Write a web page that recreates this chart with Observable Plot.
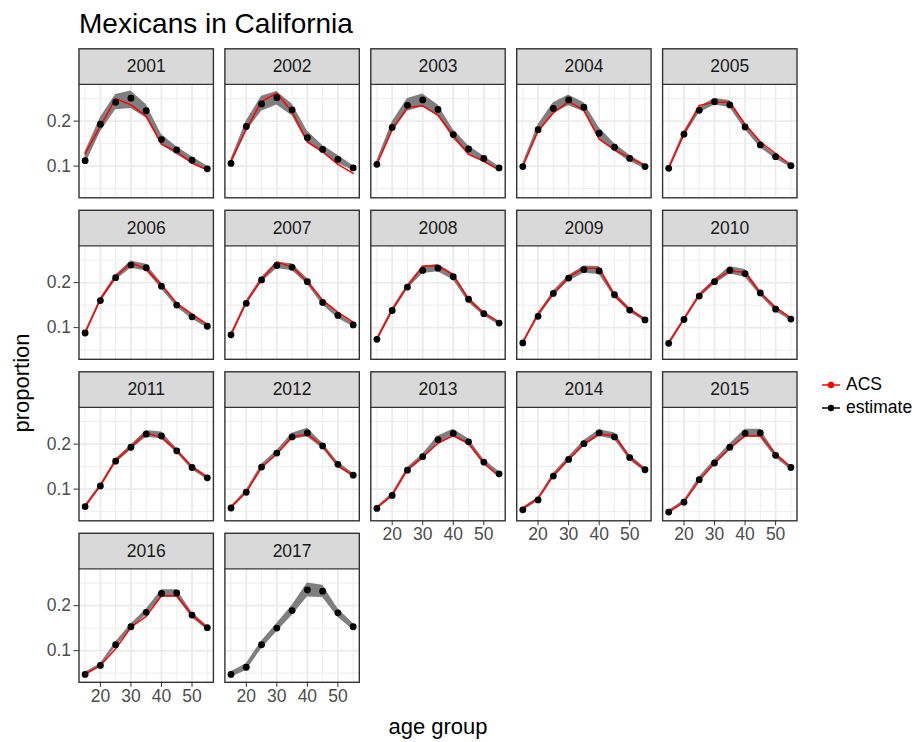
<!DOCTYPE html>
<html><head><meta charset="utf-8">
<script src="https://cdn.jsdelivr.net/npm/d3@7"></script>
<script src="https://cdn.jsdelivr.net/npm/@observablehq/plot@0.6"></script>
<style>
body{margin:0;background:#fff;font-family:"Liberation Sans",Arial,Helvetica,sans-serif;}
#wrap{position:relative;width:916px;height:742px;overflow:hidden;}
#title{position:absolute;left:79px;top:6px;font-size:28px;line-height:36px;color:#000;white-space:nowrap;}
#chart{position:absolute;left:0;top:44px;}
#ylab{position:absolute;left:22px;top:383px;transform:translate(-50%,-50%) rotate(-90deg);font-size:22px;white-space:nowrap;color:#000;}
#xlab{position:absolute;left:438px;top:727px;transform:translate(-50%,-50%);font-size:22px;white-space:nowrap;color:#000;}
#legend{position:absolute;left:821px;top:373px;font-size:17.5px;color:#000;}
.item{display:flex;align-items:center;height:23px;}
.item svg{margin-right:5px;}
</style>
</head><body>
<div id="wrap">
  <div id="title">Mexicans in California</div>
  <div id="chart"></div>
  <div id="ylab">proportion</div>
  <div id="xlab">age group</div>
  <div id="legend"></div>
</div>
<script>
const years = [2001,2002,2003,2004,2005,2006,2007,2008,2009,2010,2011,2012,2013,2014,2015,2016,2017];
const ages = [15,20,25,30,35,40,45,50,55];
const xTicks = [20,30,40,50];
const yTicks = [0.1,0.2];
const seriesNames = ["ACS","estimate"];

const estimate = [
 [0.112,0.193,0.242,0.251,0.223,0.159,0.136,0.113,0.094],
 [0.106,0.188,0.238,0.252,0.225,0.163,0.137,0.115,0.096],
 [0.104,0.186,0.235,0.247,0.226,0.170,0.138,0.117,0.096],
 [0.099,0.181,0.228,0.247,0.231,0.173,0.142,0.117,0.099],
 [0.095,0.171,0.224,0.243,0.236,0.187,0.147,0.121,0.101],
 [0.088,0.160,0.211,0.239,0.233,0.192,0.150,0.124,0.103],
 [0.084,0.154,0.206,0.238,0.234,0.202,0.156,0.127,0.106],
 [0.074,0.138,0.190,0.227,0.232,0.213,0.163,0.131,0.110],
 [0.066,0.125,0.176,0.210,0.229,0.226,0.173,0.139,0.117],
 [0.065,0.118,0.170,0.202,0.227,0.220,0.177,0.141,0.119],
 [0.061,0.107,0.162,0.193,0.222,0.218,0.185,0.148,0.125],
 [0.058,0.093,0.149,0.180,0.216,0.225,0.196,0.155,0.131],
 [0.057,0.086,0.142,0.172,0.210,0.224,0.205,0.160,0.134],
 [0.054,0.076,0.129,0.166,0.201,0.225,0.216,0.170,0.143],
 [0.049,0.071,0.121,0.158,0.193,0.224,0.225,0.175,0.148],
 [0.047,0.067,0.113,0.153,0.185,0.227,0.228,0.179,0.151],
 [0.047,0.063,0.113,0.150,0.189,0.235,0.232,0.184,0.153]
];
const acs = [
 [0.128,0.189,0.250,0.236,0.211,0.149,0.132,0.107,0.091],
 [0.112,0.182,0.244,0.262,0.221,0.154,0.132,0.104,0.084],
 [0.104,0.181,0.230,0.234,0.213,0.168,0.126,0.111,0.091],
 [0.099,0.178,0.218,0.244,0.224,0.160,0.136,0.119,0.102],
 [0.095,0.171,0.235,0.242,0.242,0.193,0.154,0.128,0.102],
 [0.088,0.163,0.213,0.244,0.230,0.195,0.154,0.130,0.107],
 [0.084,0.156,0.207,0.246,0.235,0.202,0.161,0.134,0.112],
 [0.074,0.139,0.192,0.237,0.237,0.217,0.163,0.132,0.112],
 [0.066,0.132,0.174,0.213,0.232,0.232,0.171,0.140,0.119],
 [0.065,0.119,0.172,0.205,0.226,0.223,0.177,0.145,0.121],
 [0.061,0.108,0.164,0.194,0.225,0.215,0.186,0.149,0.127],
 [0.060,0.093,0.148,0.178,0.216,0.222,0.196,0.151,0.131],
 [0.059,0.086,0.144,0.171,0.202,0.219,0.202,0.158,0.128],
 [0.058,0.079,0.130,0.166,0.200,0.222,0.219,0.170,0.143],
 [0.049,0.071,0.119,0.158,0.191,0.218,0.219,0.178,0.148],
 [0.047,0.067,0.104,0.152,0.176,0.222,0.222,0.179,0.150],
 null
];
const lower = [
 [0.103,0.176,0.225,0.228,0.207,0.147,0.125,0.105,0.089],
 [0.100,0.176,0.222,0.236,0.212,0.151,0.129,0.106,0.090],
 [0.098,0.176,0.222,0.232,0.212,0.160,0.126,0.108,0.090],
 [0.095,0.172,0.217,0.234,0.221,0.162,0.133,0.110,0.094],
 [0.091,0.164,0.218,0.236,0.230,0.181,0.141,0.116,0.097],
 [0.083,0.155,0.205,0.232,0.226,0.186,0.145,0.119,0.099],
 [0.080,0.150,0.201,0.231,0.227,0.196,0.150,0.121,0.102],
 [0.070,0.132,0.185,0.220,0.224,0.206,0.156,0.126,0.106],
 [0.063,0.120,0.170,0.203,0.221,0.218,0.167,0.134,0.113],
 [0.062,0.113,0.165,0.196,0.219,0.212,0.171,0.136,0.115],
 [0.058,0.102,0.157,0.187,0.215,0.212,0.180,0.143,0.121],
 [0.055,0.089,0.144,0.175,0.210,0.216,0.190,0.149,0.126],
 [0.054,0.082,0.137,0.166,0.203,0.216,0.198,0.154,0.128],
 [0.051,0.073,0.124,0.161,0.195,0.217,0.210,0.164,0.138],
 [0.046,0.067,0.116,0.152,0.186,0.216,0.214,0.169,0.143],
 [0.044,0.063,0.108,0.148,0.179,0.218,0.218,0.173,0.146],
 [0.041,0.056,0.104,0.142,0.178,0.219,0.218,0.174,0.146]
];
const upper = [
 [0.132,0.208,0.259,0.267,0.237,0.170,0.143,0.121,0.100],
 [0.115,0.200,0.255,0.266,0.238,0.178,0.146,0.124,0.101],
 [0.112,0.198,0.250,0.260,0.236,0.181,0.145,0.122,0.099],
 [0.106,0.192,0.241,0.258,0.241,0.185,0.150,0.124,0.103],
 [0.099,0.178,0.232,0.250,0.246,0.194,0.152,0.125,0.104],
 [0.092,0.166,0.217,0.248,0.241,0.199,0.156,0.128,0.107],
 [0.088,0.160,0.212,0.246,0.242,0.209,0.162,0.131,0.110],
 [0.078,0.143,0.196,0.236,0.241,0.220,0.168,0.136,0.114],
 [0.070,0.131,0.182,0.216,0.237,0.236,0.179,0.144,0.121],
 [0.069,0.122,0.175,0.207,0.236,0.229,0.182,0.146,0.123],
 [0.065,0.111,0.167,0.198,0.230,0.227,0.191,0.153,0.129],
 [0.062,0.098,0.155,0.186,0.224,0.235,0.202,0.160,0.135],
 [0.061,0.091,0.148,0.178,0.218,0.233,0.212,0.166,0.139],
 [0.059,0.082,0.135,0.172,0.208,0.232,0.225,0.176,0.148],
 [0.053,0.075,0.127,0.165,0.200,0.233,0.233,0.181,0.152],
 [0.052,0.071,0.119,0.159,0.192,0.235,0.235,0.185,0.155],
 [0.053,0.071,0.121,0.160,0.200,0.250,0.245,0.193,0.160]
];

const NCOL = 5;
const panels = years.map((yr, i) => ({year: yr, col: i % NCOL, row: Math.floor(i / NCOL)}));
const rows = panels.flatMap((p, i) => ages.map((a, j) => ({
  ...p, age: a, est: estimate[i][j], acs: acs[i] ? acs[i][j] : null, lo: lower[i][j], hi: upper[i][j]
})));
const acsRows = rows.filter(d => d.acs != null);

// scale layout (panel area + strip band stacked in y)
const X_DOMAIN = [13, 57];
const Y_PANEL_TOP = 0.2816;
const Y_DOMAIN = [0.0296, 0.3607];
const FONT = '"Liberation Sans", Arial, Helvetica, sans-serif';
const GRID = "#EBEBEB", INK = "#333333";
const F = {fx: "col", fy: "row"};

const chart = Plot.plot({
  width: 916, height: 668,
  marginLeft: 78.5, marginRight: 119.5, marginTop: 4.3, marginBottom: 30.2,
  style: {fontFamily: FONT, fontSize: "17.5px", background: "white"},
  fx: {domain: d3.range(NCOL), paddingInner: 0.0788, paddingOuter: 0, round: false, axis: null},
  fy: {domain: d3.range(4), paddingInner: 0.0774, paddingOuter: 0, round: false, axis: null},
  x: {domain: X_DOMAIN},
  y: {domain: Y_DOMAIN},
  marks: [
    Plot.gridX({ticks: [15,25,35,45,55], stroke: GRID, strokeOpacity: 1, strokeWidth: 0.9}),
    Plot.gridY({ticks: [0.05,0.15,0.25], stroke: GRID, strokeOpacity: 1, strokeWidth: 0.9}),
    Plot.gridX({ticks: xTicks, stroke: GRID, strokeOpacity: 1, strokeWidth: 1.8}),
    Plot.gridY({ticks: yTicks, stroke: GRID, strokeOpacity: 1, strokeWidth: 1.8}),
    Plot.areaY(rows, {...F, x: "age", y1: "lo", y2: "hi", fill: "#7F7F7F"}),
    Plot.line(acsRows, {...F, x: "age", y: "acs", stroke: "#FF0000", strokeWidth: 1.5}),
    Plot.dot(rows, {...F, x: "age", y: "est", r: 3.4, fill: "#000000"}),
    Plot.rect(panels, {...F, x1: X_DOMAIN[0], x2: X_DOMAIN[1], y1: Y_PANEL_TOP, y2: Y_DOMAIN[1], fill: "#D9D9D9"}),
    Plot.text(panels, {...F, text: d => String(d.year), frameAnchor: "top", lineAnchor: "middle", dy: 17.8, fill: "#1A1A1A", fontSize: 17.5}),
    Plot.ruleY(panels, {...F, y: Y_PANEL_TOP, stroke: INK, strokeWidth: 1.4}),
    Plot.frame({stroke: INK, strokeWidth: 1.4}),
    Plot.axisX({ticks: xTicks, tickSize: 5, tickPadding: 2, label: null, facetAnchor: "bottom-empty", stroke: INK, fill: "#4D4D4D", fontSize: 17.5}),
    Plot.axisY({ticks: yTicks, tickFormat: d3.format(".1f"), tickSize: 5, tickPadding: 3, label: null, facetAnchor: "left", stroke: INK, fill: "#4D4D4D", fontSize: 17.5})
  ]
});
document.getElementById("chart").appendChild(chart);

// legend
const legendColors = {ACS: "#FF0000", estimate: "#000000"};
const leg = document.getElementById("legend");
seriesNames.forEach(name => {
  const item = document.createElement("div");
  item.className = "item";
  const ns = "http://www.w3.org/2000/svg";
  const s = document.createElementNS(ns, "svg");
  s.setAttribute("width", 20); s.setAttribute("height", 20);
  const ln = document.createElementNS(ns, "line");
  ln.setAttribute("x1", 1); ln.setAttribute("x2", 19); ln.setAttribute("y1", 10); ln.setAttribute("y2", 10);
  ln.setAttribute("stroke", legendColors[name]); ln.setAttribute("stroke-width", 1.5);
  const c = document.createElementNS(ns, "circle");
  c.setAttribute("cx", 10); c.setAttribute("cy", 10); c.setAttribute("r", 3.2);
  c.setAttribute("fill", legendColors[name]);
  s.appendChild(ln); s.appendChild(c);
  const t = document.createElement("span");
  t.textContent = name;
  item.appendChild(s); item.appendChild(t);
  leg.appendChild(item);
});
</script>
</body></html>
